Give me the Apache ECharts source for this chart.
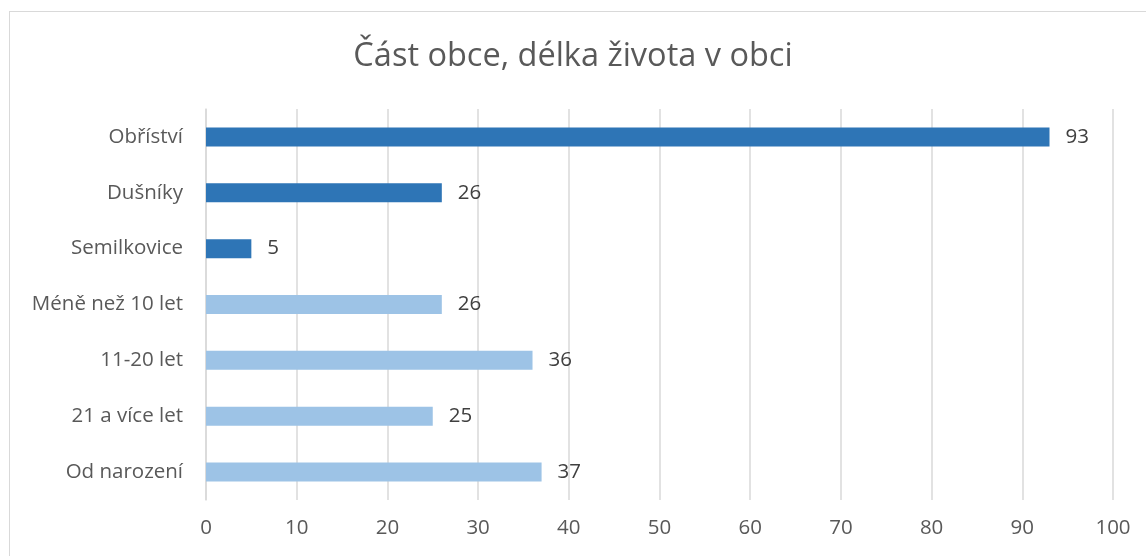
<!DOCTYPE html>
<html>
  <head>
    <meta charset="UTF-8" />
    <title>Část obce, délka života v obci</title>
    <style>
      html, body { margin: 0; padding: 0; background: #fff; }
      #frame {
        position: absolute; left: 9px; top: 11px; width: 1150px; height: 560px;
        border: 1px solid #d9d9d9; box-sizing: border-box;
      }
      #main { position: absolute; left: 0; top: 0; width: 1146px; height: 556px; }
    </style>
  </head>
  <body>
    <div id="frame"></div>
    <div id="main"></div>
    <script src="https://cdn.jsdelivr.net/npm/echarts@6/dist/echarts.min.js"></script>
    <script>
      // categories top to bottom
      const categories = ['Obříství', 'Dušníky', 'Semilkovice', 'Méně než 10 let', '11-20 let', '21 a více let', 'Od narození']
      const values = [93, 26, 5, 26, 36, 25, 37]
      const darkBlue = '#2e75b6'
      const lightBlue = '#9dc3e6'
      const barColors = [darkBlue, darkBlue, darkBlue, lightBlue, lightBlue, lightBlue, lightBlue]
      const xTicks = [0, 10, 20, 30, 40, 50, 60, 70, 80, 90, 100]

      const font = '"Open Sans", Lato, sans-serif'

      let chart = echarts.init(document.getElementById('main'))
      chart.setOption({
        animation: false,
        title: {
          text: 'Část obce, délka života v obci',
          left: 'center',
          top: 35,
          textStyle: { fontFamily: font, fontSize: 32.5, fontWeight: 'normal', color: '#595959' },
        },
        grid: { left: 206, right: 33, top: 109, bottom: 56 },
        xAxis: {
          type: 'value',
          min: xTicks[0],
          max: xTicks[xTicks.length - 1],
          interval: 10,
          axisLine: { show: false },
          axisTick: { show: false },
          axisLabel: { fontFamily: font, fontSize: 20.5, color: '#595959', margin: 18 },
          splitLine: { lineStyle: { color: '#d9d9d9', width: 1.5 } },
        },
        yAxis: {
          type: 'category',
          inverse: true,
          data: categories,
          axisLine: { lineStyle: { color: '#d9d9d9', width: 1.5 } },
          axisTick: { length: 7, lineStyle: { color: '#d9d9d9', width: 1.5 } },
          axisLabel: { fontFamily: font, fontSize: 20.5, color: '#595959', margin: 23 },
        },
        series: [
          {
            type: 'bar',
            barWidth: 19,
            data: values.map((v, i) => ({ value: v, itemStyle: { color: barColors[i] } })),
            label: {
              show: true,
              position: 'right',
              distance: 16,
              fontFamily: font,
              fontSize: 20.5,
              color: '#404040',
            },
          },
        ],
      })
    </script>
  </body>
</html>
